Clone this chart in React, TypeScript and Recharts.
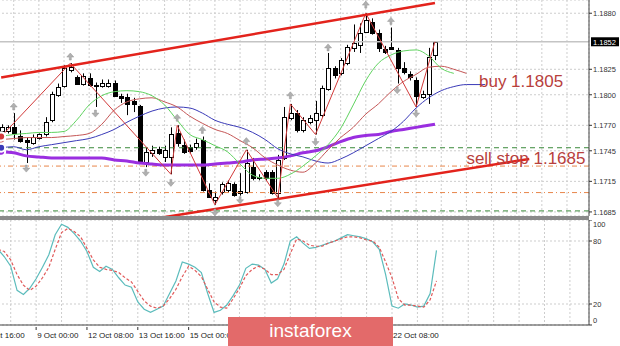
import React from 'react';
import {
  ComposedChart, Bar, Line, Scatter, XAxis, YAxis, CartesianGrid, ReferenceLine, ReferenceDot,
} from 'recharts';

// H4 candles, index 0 = leftmost bar
const opens = [
  1.1764, 1.1764, 1.1768, 1.1760, 1.1756, 1.1753, 1.1758, 1.1761, 1.1775, 1.1800,
  1.1809, 1.1824, 1.1817, 1.1811, 1.1816, 1.1810, 1.1809, 1.1809, 1.1812, 1.1799,
  1.1798, 1.1794, 1.1789, 1.1734, 1.1743, 1.1747, 1.1739, 1.1739, 1.1762, 1.1751,
  1.1749, 1.1749, 1.1756, 1.1707, 1.1697, 1.1705, 1.1707, 1.1712, 1.1704, 1.1705,
  1.1729, 1.1719, 1.1724, 1.1724, 1.1704, 1.1738, 1.1777, 1.1782, 1.1765, 1.1773,
  1.1775, 1.1780, 1.1806, 1.1826, 1.1821, 1.1831, 1.1846, 1.1849, 1.1862, 1.1871,
  1.1861, 1.1845, 1.1847, 1.1844, 1.1826, 1.1820, 1.1814, 1.1798, 1.1801, 1.1839,
];
const highs = [
  1.1771, 1.1770, 1.1782, 1.1765, 1.1758, 1.1761, 1.1762, 1.1778, 1.1803, 1.1811,
  1.1829, 1.1831, 1.1819, 1.1821, 1.1821, 1.1812, 1.1815, 1.1815, 1.1814, 1.1801,
  1.1801, 1.1797, 1.1790, 1.1748, 1.1750, 1.1749, 1.1750, 1.1768, 1.1770, 1.1756,
  1.1751, 1.1757, 1.1759, 1.1713, 1.1705, 1.1714, 1.1716, 1.1714, 1.1723, 1.1746,
  1.1738, 1.1722, 1.1726, 1.1726, 1.1741, 1.1788, 1.1791, 1.1785, 1.1778, 1.1780,
  1.1794, 1.1809, 1.1841, 1.1828, 1.1836, 1.1849, 1.1869, 1.1870, 1.1880, 1.1875,
  1.1864, 1.1848, 1.1866, 1.1846, 1.1832, 1.1823, 1.1817, 1.1804, 1.1846, 1.1852,
];
const lows = [
  1.1761, 1.1762, 1.1756, 1.1753, 1.1733, 1.1751, 1.1756, 1.1759, 1.1773, 1.1798,
  1.1807, 1.1822, 1.1810, 1.1809, 1.1808, 1.1788, 1.1807, 1.1807, 1.1798, 1.1792,
  1.1780, 1.1783, 1.1732, 1.1729, 1.1739, 1.1741, 1.1734, 1.1722, 1.1749, 1.1742,
  1.1743, 1.1746, 1.1705, 1.1699, 1.1692, 1.1702, 1.1704, 1.1700, 1.1701, 1.1703,
  1.1716, 1.1716, 1.1716, 1.1702, 1.1697, 1.1736, 1.1775, 1.1763, 1.1763, 1.1771,
  1.1761, 1.1778, 1.1804, 1.1816, 1.1819, 1.1829, 1.1842, 1.1841, 1.1861, 1.1859,
  1.1842, 1.1840, 1.1844, 1.1811, 1.1820, 1.1814, 1.1788, 1.1796, 1.1791, 1.1834,
];
const closes = [
  1.1768, 1.1768, 1.1762, 1.1755, 1.1754, 1.1759, 1.1761, 1.1773, 1.1801, 1.1808,
  1.1826, 1.1827, 1.1811, 1.1818, 1.1810, 1.1809, 1.1812, 1.1812, 1.1799, 1.1797,
  1.1791, 1.1791, 1.1733, 1.1744, 1.1746, 1.1743, 1.1746, 1.1761, 1.1753, 1.1744,
  1.1745, 1.1753, 1.1707, 1.1700, 1.1700, 1.1712, 1.1713, 1.1702, 1.1706, 1.1733,
  1.1718, 1.1718, 1.1718, 1.1704, 1.1736, 1.1778, 1.1782, 1.1765, 1.1775, 1.1777,
  1.1782, 1.1807, 1.1826, 1.1819, 1.1834, 1.1847, 1.1851, 1.1861, 1.1873, 1.1861,
  1.1846, 1.1842, 1.1845, 1.1826, 1.1822, 1.1817, 1.1799, 1.1801, 1.1837, 1.1852,
];

// alligator (jaw/teeth/lips, shifted forward) and the slow MA, [bar, price]
const jawPts: [number, number][] = [
  [0, 1.1748], [2, 1.1749], [4, 1.1746], [6, 1.1749], [8, 1.1751], [10, 1.1753], [12, 1.1755], [14, 1.1757],
  [16, 1.1761], [18, 1.1766], [20, 1.1773], [22, 1.1779], [24, 1.1784], [26, 1.1787], [28, 1.1788], [30, 1.1787],
  [32, 1.1782], [34, 1.1775], [36, 1.1771], [38, 1.1768], [40, 1.1763], [42, 1.1756], [44, 1.1747], [46, 1.1742],
  [48, 1.1739], [50, 1.1735], [52, 1.1733], [54, 1.1737], [56, 1.1743], [58, 1.1750], [60, 1.1757], [62, 1.1764],
  [64, 1.1774], [66, 1.1787], [68, 1.1797], [70, 1.1804], [72, 1.1808], [74, 1.1810], [76, 1.1810], [77, 1.1810],
];
const teethPts: [number, number][] = [
  [0, 1.1756], [2, 1.1757], [4, 1.1758], [6, 1.1758], [8, 1.1758], [10, 1.1759], [12, 1.1760], [14, 1.1762],
  [16, 1.1771], [18, 1.1785], [20, 1.1793], [22, 1.1796], [24, 1.1797], [26, 1.1793], [28, 1.1788], [30, 1.1779],
  [32, 1.1772], [34, 1.1766], [36, 1.1762], [38, 1.1755], [40, 1.1748], [42, 1.1738], [44, 1.1731], [46, 1.1726],
  [48, 1.1724], [50, 1.1733], [52, 1.1746], [54, 1.1758], [56, 1.1768], [58, 1.1781], [60, 1.1791], [62, 1.1803],
  [64, 1.1813], [66, 1.1820], [68, 1.1827], [70, 1.1828], [72, 1.1825], [74, 1.1821],
];
const lipsPts: [number, number][] = [
  [0, 1.1759], [2, 1.1761], [4, 1.1762], [6, 1.1763], [8, 1.1763], [10, 1.1764], [12, 1.1775], [14, 1.1790],
  [16, 1.1799], [18, 1.1803], [20, 1.1804], [22, 1.1803], [24, 1.1799], [26, 1.1790], [28, 1.1775], [30, 1.1761],
  [32, 1.1756], [34, 1.1750], [36, 1.1744], [38, 1.1732], [40, 1.1721], [42, 1.1718], [44, 1.1718], [46, 1.1722],
  [48, 1.1730], [50, 1.1740], [52, 1.1751], [54, 1.1767], [56, 1.1790], [58, 1.1814], [60, 1.1831], [62, 1.1839],
  [64, 1.1843], [66, 1.1844], [68, 1.1838], [70, 1.1826], [72, 1.1821],
];
const slowMaPts: [number, number][] = [
  [0, 1.1744], [2, 1.1743], [4, 1.1740], [6, 1.1739], [8, 1.1738], [10, 1.1738], [12, 1.1738], [14, 1.1738],
  [16, 1.1738], [18, 1.1736], [20, 1.1735], [22, 1.1733], [24, 1.1732], [26, 1.1731], [28, 1.1731], [30, 1.1731],
  [32, 1.1731], [34, 1.1732], [36, 1.1733], [38, 1.1734], [40, 1.1736], [42, 1.1737], [44, 1.1738], [46, 1.1740],
  [48, 1.1743], [50, 1.1745], [52, 1.1749], [54, 1.1754], [56, 1.1758], [58, 1.1760], [60, 1.1761], [62, 1.1764],
  [64, 1.1766], [66, 1.1768], [68, 1.1770], [69, 1.1771],
];
const zigzagPts: [number, number][] = [
  [0, 1.1759], [11, 1.1831], [27, 1.1722], [28, 1.1770], [34, 1.1692], [39, 1.1746],
  [44, 1.1699], [46, 1.1791], [50, 1.1761], [58, 1.1880], [66, 1.1788], [69, 1.1852],
];
const fractalUp: [number, number][] = [
  [2, 1.1788], [11, 1.1837], [28, 1.1777], [32, 1.1765], [39, 1.1754], [46, 1.1799],
  [52, 1.1846], [58, 1.1888], [62, 1.1872],
];
const fractalDown: [number, number][] = [
  [4, 1.1728], [15, 1.1782], [23, 1.1724], [27, 1.1714], [34, 1.1685], [38, 1.1697],
  [44, 1.1694], [50, 1.1754], [63, 1.1805], [66, 1.1782],
];

// stochastic %K and signal
const stochK = [
  72, 65, 56, 33, 29, 35, 44, 55, 67, 86, 96, 93, 87, 80, 70, 55, 51, 56, 53, 45,
  38, 36, 22, 15, 12, 15, 18, 30, 42, 60, 58, 55, 50, 30, 12, 14, 19, 28, 38, 54,
  58, 57, 53, 40, 44, 58, 80, 84, 78, 73, 74, 76, 78, 80, 83, 86, 85, 84, 82, 79,
  72, 48, 18, 16, 20, 19, 17, 18, 30, 71,
];
const stochD = [
  72, 70, 62, 48, 38, 33, 37, 45, 55, 72, 88, 92, 89, 84, 73, 62, 55, 53, 52, 50,
  45, 41, 32, 23, 18, 16, 18, 25, 34, 46, 56, 52, 46, 34, 22, 17, 16, 25, 35, 47,
  53, 56, 53, 48, 48, 53, 68, 82, 80, 76, 75, 75, 78, 80, 82, 84, 84, 83, 81, 80,
  74, 60, 45, 25, 19, 19, 18, 17, 24, 42,
];

const priceTicks = [1.1685, 1.1715, 1.1745, 1.1770, 1.18, 1.1825, 1.188];
const stochTicks = [0, 20, 80, 100];
// labels hidden under the logo in the source are left out
const timeLabels: Record<number, string> = {
  2: '8 Oct 16:00', 6: '9 Oct 00:00', 14: '12 Oct 08:00', 22: '13 Oct 16:00', 30: '15 Oct 00:00',
  62: '22 Oct 08:00',
};
const bid = 1.1852;
const levels = { greenHigh: 1.1748, orangeHigh: 1.1730, orangeLow: 1.1704, greenLow: 1.1686 };

const SLOTS = 94;
const gridTicks = Array.from({ length: 23 }, (_, k) => 2 + k * 4);

const rows = Array.from({ length: SLOTS }, (_, i) => {
  const at = (pts: [number, number][]) => {
    const p = pts.find((q) => q[0] === i);
    return p ? p[1] : null;
  };
  const has = i < opens.length;
  return {
    i,
    o: has ? opens[i] : null,
    h: has ? highs[i] : null,
    l: has ? lows[i] : null,
    c: has ? closes[i] : null,
    range: has ? [lows[i], highs[i]] : null,
    jaw: at(jawPts),
    teeth: at(teethPts),
    lips: at(lipsPts),
    ma: at(slowMaPts),
    zz: at(zigzagPts),
    fu: at(fractalUp),
    fd: at(fractalDown),
    k: has ? stochK[i] : null,
    d: has ? stochD[i] : null,
  };
});

const Candle = (props: any) => {
  const { x, y, width, height, payload } = props;
  if (!payload || payload.o == null || !isFinite(y) || !isFinite(height)) return <g />;
  const { o, h, l, c } = payload;
  const top = Math.min(y, y + height);
  const hgt = Math.abs(height);
  const k = h === l ? 0 : hgt / (h - l);
  const py = (p: number) => top + (h - p) * k;
  const cx = Math.round(x + width / 2) + 0.5;
  const bTop = Math.round(py(Math.max(o, c))) + 0.5;
  const bBot = Math.round(py(Math.min(o, c))) + 0.5;
  const up = c >= o;
  return (
    <g>
      <line x1={cx} x2={cx} y1={top} y2={top + hgt} stroke="#000" strokeWidth={1} />
      <rect x={cx - 2} y={bTop} width={4} height={Math.max(bBot - bTop, 1)}
        fill={up ? '#fff' : '#000'} stroke="#000" strokeWidth={1} />
    </g>
  );
};

const Fractal = (dir: 'up' | 'down') => (props: any) => {
  const { cx, cy, payload } = props;
  const v = dir === 'up' ? payload?.fu : payload?.fd;
  if (v == null || !isFinite(cx) || !isFinite(cy)) return <g />;
  const s = dir === 'up' ? -1 : 1;
  const pts = [
    [cx, cy + s * 4], [cx - 3.5, cy], [cx - 1, cy], [cx - 1, cy - s * 3],
    [cx + 1, cy - s * 3], [cx + 1, cy], [cx + 3.5, cy],
  ].map((p) => p.join(',')).join(' ');
  return <polygon points={pts} fill="#b0b0b0" stroke="#959595" strokeWidth={0.5} />;
};

const PriceTick = (props: any) => {
  const { x, y, payload } = props;
  return (
    <text x={x} y={y + 2.8} fontSize={7.5} fill="#333" textAnchor="start">
      {payload.value.toFixed(4)}
    </text>
  );
};

const StochTick = (props: any) => {
  const { x, y, payload } = props;
  const v = payload.value;
  const dy = v === 100 ? 7 : v === 0 ? -2.5 : 2.8;
  return (
    <text x={x} y={y + dy} fontSize={7.5} fill="#333" textAnchor="start">{v}</text>
  );
};

const TimeTick = (props: any) => {
  const { x, y, payload } = props;
  const label = timeLabels[payload.value];
  if (!label) return <g />;
  const first = payload.value === 2;
  return (
    <g>
      {!first && <line x1={x} x2={x} y1={y} y2={y + 3} stroke="#333" />}
      <text x={first ? x + 14 : x + 1} y={y + 11} fontSize={8} fill="#222"
        textAnchor={first ? 'end' : 'start'}>{label}</text>
    </g>
  );
};

const annotation = (text: string) => (props: any) => {
  const vb = props.viewBox || {};
  return (
    <text x={vb.x} y={vb.y} fontSize={17} fill="#b8403c" textAnchor="start"
      fontFamily="'Liberation Sans', Arial, sans-serif">{text}</text>
  );
};

const bidLabel = (props: any) => {
  const vb = props.viewBox || {};
  const x = vb.x + vb.width + 2;
  return (
    <g>
      <rect x={x} y={vb.y - 4.5} width={28} height={9} fill="#000" />
      <text x={x + 2} y={vb.y + 2.8} fontSize={7.5} fill="#fff">{bid.toFixed(4)}</text>
    </g>
  );
};

export default function App() {
  return (
    <div style={{ position: 'absolute', left: 0, top: 0, width: 620, height: 346, background: '#fff',
      overflow: 'hidden', fontFamily: "'Liberation Sans', Arial, sans-serif" }}>
      <ComposedChart width={620} height={216} data={rows} margin={{ top: 0, right: 0, bottom: 0, left: -2 }}>
        <CartesianGrid stroke="#cdcdcd" strokeDasharray="2 2" />
        <XAxis dataKey="i" hide ticks={gridTicks} interval={0} />
        <YAxis orientation="right" domain={[1.1681, 1.1893]} ticks={priceTicks} interval={0} width={31} allowDataOverflow
          tick={<PriceTick />} tickSize={3} tickMargin={1} tickLine={{ stroke: '#333' }} axisLine={{ stroke: '#444' }} />
        <ReferenceLine y={levels.greenHigh} stroke="#3a8a3a" strokeDasharray="5 4" />
        <ReferenceLine y={levels.orangeHigh} stroke="#e8864a" strokeDasharray="5 3 1 3" />
        <ReferenceLine y={levels.orangeLow} stroke="#e8864a" strokeDasharray="5 3 1 3" />
        <ReferenceLine y={levels.greenLow} stroke="#3a8a3a" strokeDasharray="5 4" />
        <ReferenceLine y={bid} stroke="#c4c4c4" strokeWidth={1.5} label={bidLabel} />
        <Bar dataKey="range" barSize={5} shape={<Candle />} isAnimationActive={false} />
        <Line dataKey="ma" stroke="#9a2ee0" strokeWidth={3} dot={false} connectNulls type="monotone" isAnimationActive={false} />
        <Line dataKey="jaw" stroke="#3a3ab8" strokeWidth={1} dot={false} connectNulls type="monotone" isAnimationActive={false} />
        <Line dataKey="teeth" stroke="#c55656" strokeWidth={1} dot={false} connectNulls type="monotone" isAnimationActive={false} />
        <Line dataKey="lips" stroke="#5fd35f" strokeWidth={1} dot={false} connectNulls type="monotone" isAnimationActive={false} />
        <Line dataKey="zz" stroke="#d23a3a" strokeWidth={1} dot={false} connectNulls type="linear" isAnimationActive={false} />
        <Scatter dataKey="fu" shape={Fractal('up')} isAnimationActive={false} />
        <Scatter dataKey="fd" shape={Fractal('down')} isAnimationActive={false} />
        <ReferenceDot x={76} y={1.1808} r={0} ifOverflow="visible" label={annotation('buy 1.1805')} />
        <ReferenceDot x={74} y={1.1732} r={0} ifOverflow="visible" label={annotation('sell stop 1.1685')} />
        <ReferenceLine segment={[{ x: 0, y: 1.1817 }, { x: 69, y: 1.1890 }]} stroke="#e3231c" strokeWidth={2.5} ifOverflow="hidden" />
        <ReferenceLine segment={[{ x: 23, y: 1.1677 }, { x: 84, y: 1.1737 }]} stroke="#e3231c" strokeWidth={2.5} ifOverflow="hidden" />
      </ComposedChart>
      <div style={{ width: 589, height: 4, background: '#8a8a8a' }} />
      <ComposedChart width={620} height={126} data={rows} margin={{ top: 0, right: 0, bottom: 0, left: -2 }}>
        <CartesianGrid stroke="#cdcdcd" strokeDasharray="2 2" />
        <XAxis dataKey="i" ticks={gridTicks} interval={0} height={21} tickLine={false} tickSize={0}
          axisLine={{ stroke: '#444' }} tick={<TimeTick />} />
        <YAxis orientation="right" domain={[0, 100]} ticks={stochTicks} interval={0} width={31}
          tick={<StochTick />} tickSize={3} tickMargin={1} tickLine={{ stroke: '#333' }} axisLine={{ stroke: '#444' }} />
        <Line dataKey="k" stroke="#5cbcbc" strokeWidth={1.2} dot={false} type="linear" isAnimationActive={false} />
        <Line dataKey="d" stroke="#e05a5a" strokeWidth={1.2} strokeDasharray="3 2" dot={false} type="linear" isAnimationActive={false} />
      </ComposedChart>
      <div style={{ position: 'absolute', left: 228, top: 317, width: 165, height: 29, background: '#e36a6a',
        color: '#fff', fontSize: 19, lineHeight: '28px', textAlign: 'center' }}>
        instaforex
      </div>
    </div>
  );
}
